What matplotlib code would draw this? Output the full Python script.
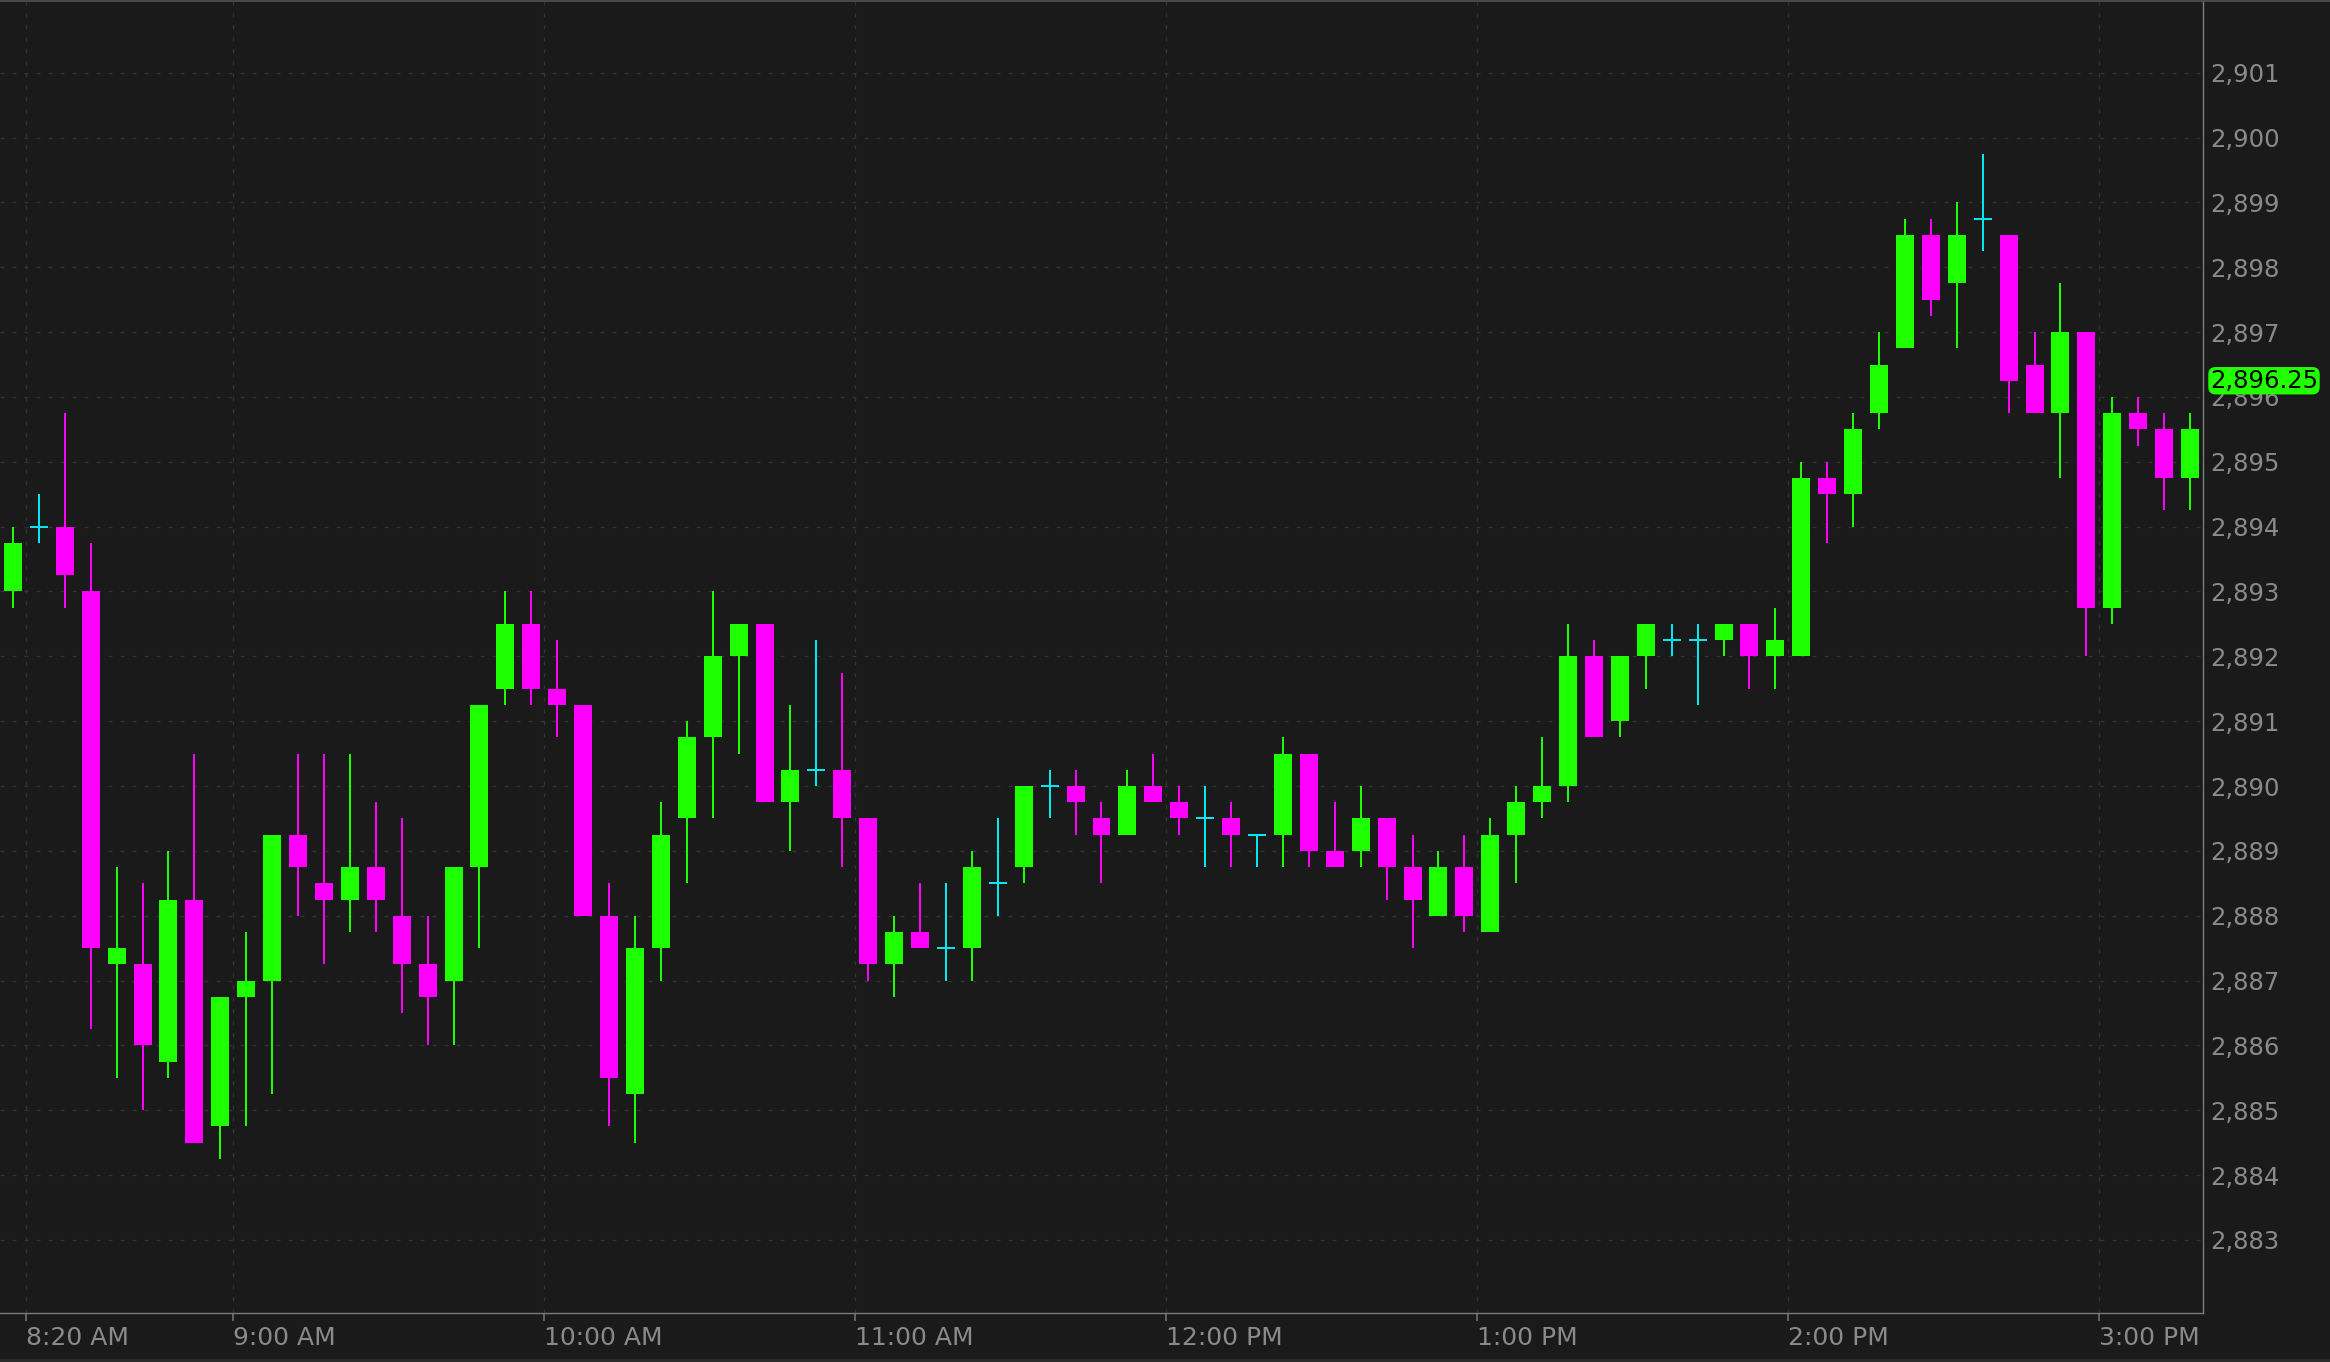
import matplotlib
matplotlib.use("Agg")
import matplotlib.pyplot as plt
import matplotlib.dates as mdates
import matplotlib.transforms as mtransforms
from matplotlib.lines import Line2D
from matplotlib.patches import Rectangle
import pandas as pd
import numpy as np

# ---------------- data (5-minute bars, 8:15 AM .. 3:15 PM) ----------------
bar_start = "2019-01-02 08:15"
bar_minutes = 5

opens = [2893.0, 2894.0, 2894.0, 2893.0, 2887.25, 2887.25, 2885.75, 2888.25, 2884.75, 2886.75,
         2887.0, 2889.25, 2888.5, 2888.25, 2888.75, 2888.0, 2887.25, 2887.0, 2888.75, 2891.5,
         2892.5, 2891.5, 2891.25, 2888.0, 2885.25, 2887.5, 2889.5, 2890.75, 2892.0, 2892.5,
         2889.75, 2890.25, 2890.25, 2889.5, 2887.25, 2887.75, 2887.5, 2887.5, 2888.5, 2888.75,
         2890.0, 2890.0, 2889.5, 2889.25, 2890.0, 2889.75, 2889.5, 2889.5, 2889.25, 2889.25,
         2890.5, 2889.0, 2889.0, 2889.5, 2888.75, 2888.0, 2888.75, 2887.75, 2889.25, 2889.75,
         2890.0, 2892.0, 2891.0, 2892.0, 2892.25, 2892.25, 2892.25, 2892.5, 2892.0, 2892.0,
         2894.75, 2894.5, 2895.75, 2896.75, 2898.5, 2897.75, 2898.75, 2898.5, 2896.5, 2895.75,
         2897.0, 2892.75, 2895.75, 2895.5, 2894.75]
highs = [2894.0, 2894.5, 2895.75, 2893.75, 2888.75, 2888.5, 2889.0, 2890.5, 2886.75, 2887.75,
         2889.25, 2890.5, 2890.5, 2890.5, 2889.75, 2889.5, 2888.0, 2888.75, 2891.25, 2893.0,
         2893.0, 2892.25, 2891.25, 2888.5, 2888.0, 2889.75, 2891.0, 2893.0, 2892.5, 2892.5,
         2891.25, 2892.25, 2891.75, 2889.5, 2888.0, 2888.5, 2888.5, 2889.0, 2889.5, 2890.0,
         2890.25, 2890.25, 2889.75, 2890.25, 2890.5, 2890.0, 2890.0, 2889.75, 2889.25, 2890.75,
         2890.5, 2889.75, 2890.0, 2889.5, 2889.25, 2889.0, 2889.25, 2889.5, 2890.0, 2890.75,
         2892.5, 2892.25, 2892.0, 2892.5, 2892.5, 2892.5, 2892.5, 2892.5, 2892.75, 2895.0,
         2895.0, 2895.75, 2897.0, 2898.75, 2898.75, 2899.0, 2899.75, 2898.5, 2897.0, 2897.75,
         2897.0, 2896.0, 2896.0, 2895.75, 2895.75]
lows = [2892.75, 2893.75, 2892.75, 2886.25, 2885.5, 2885.0, 2885.5, 2884.5, 2884.25, 2884.75,
        2885.25, 2888.0, 2887.25, 2887.75, 2887.75, 2886.5, 2886.0, 2886.0, 2887.5, 2891.25,
        2891.25, 2890.75, 2888.0, 2884.75, 2884.5, 2887.0, 2888.5, 2889.5, 2890.5, 2889.75,
        2889.0, 2890.0, 2888.75, 2887.0, 2886.75, 2887.5, 2887.0, 2887.0, 2888.0, 2888.5,
        2889.5, 2889.25, 2888.5, 2889.25, 2889.75, 2889.25, 2888.75, 2888.75, 2888.75, 2888.75,
        2888.75, 2888.75, 2888.75, 2888.25, 2887.5, 2888.0, 2887.75, 2887.75, 2888.5, 2889.5,
        2889.75, 2890.75, 2890.75, 2891.5, 2892.0, 2891.25, 2892.0, 2891.5, 2891.5, 2892.0,
        2893.75, 2894.0, 2895.5, 2896.75, 2897.25, 2896.75, 2898.25, 2895.75, 2895.75, 2894.75,
        2892.0, 2892.5, 2895.25, 2894.25, 2894.25]
closes = [2893.75, 2894.0, 2893.25, 2887.5, 2887.5, 2886.0, 2888.25, 2884.5, 2886.75, 2887.0,
          2889.25, 2888.75, 2888.25, 2888.75, 2888.25, 2887.25, 2886.75, 2888.75, 2891.25, 2892.5,
          2891.5, 2891.25, 2888.0, 2885.5, 2887.5, 2889.25, 2890.75, 2892.0, 2892.5, 2889.75,
          2890.25, 2890.25, 2889.5, 2887.25, 2887.75, 2887.5, 2887.5, 2888.75, 2888.5, 2890.0,
          2890.0, 2889.75, 2889.25, 2890.0, 2889.75, 2889.5, 2889.5, 2889.25, 2889.25, 2890.5,
          2889.0, 2888.75, 2889.5, 2888.75, 2888.25, 2888.75, 2888.0, 2889.25, 2889.75, 2890.0,
          2892.0, 2890.75, 2892.0, 2892.5, 2892.25, 2892.25, 2892.5, 2892.0, 2892.25, 2894.75,
          2894.5, 2895.5, 2896.5, 2898.5, 2897.5, 2898.5, 2898.75, 2896.25, 2895.75, 2897.0,
          2892.75, 2895.75, 2895.5, 2894.75, 2895.5]

last_price = 2896.25
last_price_label = "2,896.25"

y_ticks = [2883, 2884, 2885, 2886, 2887, 2888, 2889, 2890, 2891, 2892,
           2893, 2894, 2895, 2896, 2897, 2898, 2899, 2900, 2901]
y_tick_labels = ["2,883", "2,884", "2,885", "2,886", "2,887", "2,888", "2,889", "2,890",
                 "2,891", "2,892", "2,893", "2,894", "2,895", "2,896", "2,897", "2,898",
                 "2,899", "2,900", "2,901"]
x_ticks = ["2019-01-02 08:20", "2019-01-02 09:00", "2019-01-02 10:00", "2019-01-02 11:00",
           "2019-01-02 12:00", "2019-01-02 13:00", "2019-01-02 14:00", "2019-01-02 15:00"]
x_tick_labels = ["8:20 AM", "9:00 AM", "10:00 AM", "11:00 AM", "12:00 PM", "1:00 PM",
                 "2:00 PM", "3:00 PM"]
x_range = ["2019-01-02 08:15", "2019-01-02 15:20"]
y_range = [2881.874, 2902.121]

# ---------------- style ----------------
BG = "#1a1a1a"
UP = "#1eff00"
DOWN = "#ff00ff"
FLAT = "#00e8f0"
GRID = "#333333"
TXT = "#8a8a8a"
AXLINE = "#7c7c7c"
plt.rcParams["font.family"] = ["DejaVu Sans"]
plt.rcParams["lines.scale_dashes"] = False

W, H, DPI = 2330, 1362, 100
fig = plt.figure(figsize=(W / DPI, H / DPI), dpi=DPI, facecolor=BG)
ax_left, ax_right_px, ax_bottom_px = 0, 2203, 1313
ax = fig.add_axes([0, 1 - ax_bottom_px / H, ax_right_px / W, ax_bottom_px / H])
ax.set_facecolor(BG)

times = pd.date_range(bar_start, periods=len(opens), freq=f"{bar_minutes}min")
day = 1.0 / 1440.0
x = mdates.date2num(times.to_pydatetime()) + 2.5 * day
o = np.array(opens); h = np.array(highs); l = np.array(lows); c = np.array(closes)
body_w = 3.47 * day
px = 72.0 / DPI  # points per pixel

colors = np.where(c > o, UP, np.where(c < o, DOWN, FLAT))

# wicks
ax.vlines(x, l, h, colors=colors, linewidth=2 * px, zorder=3)
# bodies
nz = c != o
ax.bar(x[nz], np.abs(c - o)[nz], width=body_w, bottom=np.minimum(o, c)[nz],
       color=colors[nz], linewidth=0, zorder=4)
# doji crosses
dj = ~nz
ax.hlines(o[dj], x[dj] - body_w / 2, x[dj] + body_w / 2, colors=FLAT,
          linewidth=2 * px, zorder=4)

# axes ranges
ax.set_xlim(mdates.date2num(pd.to_datetime(x_range[0])), mdates.date2num(pd.to_datetime(x_range[1])))
ax.set_ylim(*y_range)

# ticks
xt = mdates.date2num(pd.to_datetime(x_ticks).to_pydatetime())
ax.set_xticks(xt)
ax.set_xticklabels(x_tick_labels, ha="left")
ax.set_yticks(y_ticks)
ax.set_yticklabels(y_tick_labels)
ax.yaxis.tick_right()
ax.tick_params(axis="x", direction="out", length=8 * px, width=1.5 * px, color=AXLINE,
               labelsize=18, labelcolor=TXT, pad=5 * px)
ax.tick_params(axis="y", length=0, labelsize=17.5, labelcolor=TXT, pad=7 * px)

# grid
ax.grid(True, color=GRID, linewidth=1.3 * px, linestyle=(0, (4 * px, 8 * px)), zorder=0)
ax.set_axisbelow(True)

# spines
for s in ["top", "left"]:
    ax.spines[s].set_visible(False)
for s in ["bottom", "right"]:
    ax.spines[s].set_color(AXLINE)
    ax.spines[s].set_linewidth(1.4 * px)

# figure top border and bottom strip
fig.add_artist(Line2D([0, 1], [1 - 0.8 / H, 1 - 0.8 / H], transform=fig.transFigure,
                      color="#4e4e4e", linewidth=1.8 * px))
fig.add_artist(Rectangle((0, 0), 1, 3.0 / H, transform=fig.transFigure,
                         facecolor="#2a2a2a", edgecolor="none"))

# last price tag
trans = mtransforms.offset_copy(
    mtransforms.blended_transform_factory(ax.transAxes, ax.transData),
    fig=fig, x=7 * px, y=0, units="points")
ax.text(1.0, last_price, last_price_label, transform=trans, ha="left", va="center",
        fontsize=17.5, color="black", clip_on=False, zorder=10,
        bbox=dict(boxstyle="round,pad=0.07,rounding_size=0.3", fc="#22ff00", ec="none"))

fig.savefig("out.png", dpi=DPI, facecolor=BG)
